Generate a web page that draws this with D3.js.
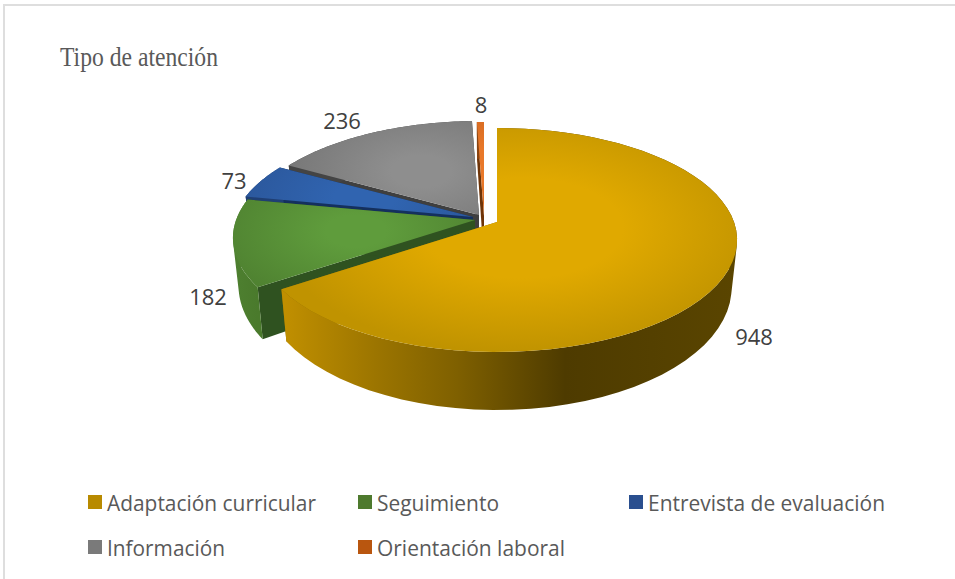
<!DOCTYPE html>
<html>
<head>
<meta charset="utf-8">
<style>
html,body{margin:0;padding:0;background:#fff}
svg{display:block}
</style>
<script src="https://cdnjs.cloudflare.com/ajax/libs/d3/7.8.5/d3.min.js"></script>
</head>
<body>
<svg id="chart" width="955" height="579"></svg>
<script>
// Attention types and their counts
const categories = ["Adaptación curricular", "Seguimiento", "Entrevista de evaluación", "Información", "Orientación laboral"];
const counts = [948, 182, 73, 236, 8];
const chartTitle = "Tipo de atención";

// Per-slice styling: legend swatch, top surface (centre, rim), outer wall stops, cut wall
const swatchColors = ["#B88A00", "#4E7A2E", "#2A4F8F", "#7A7A7A", "#B9560F"];
const topColors = [["#E0A900", "#C09300"], ["#5F9C3C", "#4E8030"], ["#3064B0", "#2A5496"], ["#8E8E8E", "#747474"], ["#E8782A", "#C8601A"]];
const wallStops = [
  [[0, "#C08F00"], [0.2, "#9C7500"], [0.38, "#7F6000"], [0.62, "#4E3B00"], [1, "#5A4500"]],
  [[0, "#4A7A2C"], [1, "#4E8030"]],
  [[0, "#1F3F74"], [1, "#1F3F74"]],
  [[0, "#444444"], [1, "#444444"]],
  [[0, "#8A4410"], [1, "#8A4410"]]
];
const cutColors = ["#8A6800", "#2F5220", "#14305E", "#3F3F3F", "#6E3408"];

// Apex of each exploded slice on the top plane, and its radial stretch
const apexX = [497, 475, 473, 479, 484];
const apexY = [222, 220, 217, 215, 216];
const stretch = [0.992, 1, 1, 0.985, 1];

// Perspective of the disc: maps the unit circle to the tilted ellipse
const persp = 0.1607, scaleU = 238.9, scaleV = 109.1;
const project = (angle, ax, ay, r = 1, k = 1) => {
  const u = r * Math.sin(angle), v = -r * Math.cos(angle);
  const w = 1 - persp * v;
  return [ax + k * scaleU * u / w, ay + scaleV * v / w];
};
// Extrusion of a top-plane point down to the bottom plane
const drop = ([x, y], ax) => [ax + (x - ax) * 0.977, y + 52 + 0.092 * (y - 287)];

const svg = d3.select("#chart");
const defs = svg.append("defs");
const line = d3.line();

// Chart frame: top and left rules only
svg.append("line").attr("x1", 4).attr("x2", 955).attr("y1", 5).attr("y2", 5).attr("stroke", "#DEDEDE").attr("stroke-width", 2);
svg.append("line").attr("x1", 4).attr("x2", 4).attr("y1", 4).attr("y2", 579).attr("stroke", "#DEDEDE").attr("stroke-width", 2);

svg.append("text").attr("x", 60).attr("y", 66)
  .attr("font-family", "Liberation Serif").attr("font-size", 27)
  .attr("fill", "#595959").attr("textLength", 158).attr("lengthAdjust", "spacingAndGlyphs")
  .text(chartTitle);

const pie = d3.pie().sort(null).value(d => d);
const arcs = pie(counts);

const arcPoints = (a, i, from = a.startAngle, to = a.endAngle) =>
  d3.range(0, 61).map(k => project(from + (to - from) * k / 60, apexX[i], apexY[i], 1, stretch[i]));

// The curved wall is a band of quads, all wound the same way so folds at the
// silhouette still fill solidly
const wallPath = (rim, rimLow) => d3.range(rim.length - 1).map(k => {
  const quad = [rim[k], rim[k + 1], rimLow[k + 1], rimLow[k]];
  return line(d3.polygonArea(quad) < 0 ? quad.reverse() : quad) + "Z";
}).join("");

// Back-to-front painting order
const order = [4, 3, 2, 1, 0];
order.forEach(i => {
  const a = arcs[i];
  const ax = apexX[i], ay = apexY[i];
  const g = svg.append("g").attr("class", "slice").datum(a);
  const rim = arcPoints(a, i);
  const rimLow = rim.map(p => drop(p, ax));

  const wallId = `wall-${i}`;
  const xs = rim.map(p => p[0]);
  const wg = defs.append("linearGradient").attr("id", wallId).attr("gradientUnits", "userSpaceOnUse")
    .attr("x1", i === 1 ? d3.max(xs) : 285).attr("x2", i === 1 ? d3.min(xs) : 737)
    .attr("y1", 0).attr("y2", 0);
  wg.selectAll("stop").data(wallStops[i]).join("stop").attr("offset", d => d[0]).attr("stop-color", d => d[1]);

  // Cut faces running from apex to rim
  const apex = [ax, ay];
  [0, rim.length - 1].forEach(end => {
    const p = rim[end];
    g.append("path")
      .attr("d", line([apex, p, drop(p, ax), drop(apex, ax)]) + "Z")
      .attr("fill", cutColors[i]);
  });

  // Outer curved wall
  g.append("path")
    .attr("d", wallPath(rim, rimLow))
    .attr("fill", `url(#${wallId})`);

  // Top surface, brightest around the middle of the slice
  const topId = `top-${i}`;
  const mid = project((a.startAngle + a.endAngle) / 2, ax, ay, i === 0 ? 0.12 : 0.5);
  const rg = defs.append("radialGradient").attr("id", topId).attr("gradientUnits", "userSpaceOnUse")
    .attr("cx", 0).attr("cy", 0).attr("r", 1)
    .attr("gradientTransform", `translate(${mid[0]},${mid[1]}) scale(${i === 0 ? 250 : 150},${i === 0 ? 125 : 80})`);
  rg.append("stop").attr("offset", i === 0 ? 0.4 : 0.2).attr("stop-color", topColors[i][0]);
  rg.append("stop").attr("offset", 1).attr("stop-color", topColors[i][1]);
  g.append("path")
    .attr("d", line([apex].concat(rim)) + "Z")
    .attr("fill", `url(#${topId})`);
});

// Value labels
const labelX = [754, 208, 234, 342, 481];
const labelY = [345, 305, 189, 129, 113];
svg.append("g").selectAll("text").data(counts).join("text")
  .attr("x", (d, i) => labelX[i]).attr("y", (d, i) => labelY[i])
  .attr("text-anchor", "middle")
  .attr("font-family", "Open Sans").attr("font-size", 22).attr("fill", "#404040")
  .text(d => d);

// Legend in two rows
const legendSwatchX = [88, 358, 629, 88, 358];
const legendRowY = [495, 495, 495, 540, 540];
const legendTextWidth = [209, 122, 237, 118, 188];
const legend = svg.append("g").selectAll("g").data(categories).join("g")
  .attr("transform", (d, i) => `translate(${legendSwatchX[i]},${legendRowY[i]})`);
legend.append("rect").attr("width", 14).attr("height", 14).attr("fill", (d, i) => swatchColors[i]);
legend.append("text").attr("x", 19).attr("y", 16)
  .attr("font-family", "Open Sans").attr("font-size", 22).attr("fill", "#595959")
  .attr("textLength", (d, i) => legendTextWidth[i]).attr("lengthAdjust", "spacingAndGlyphs")
  .text(d => d);
</script>
</body>
</html>
